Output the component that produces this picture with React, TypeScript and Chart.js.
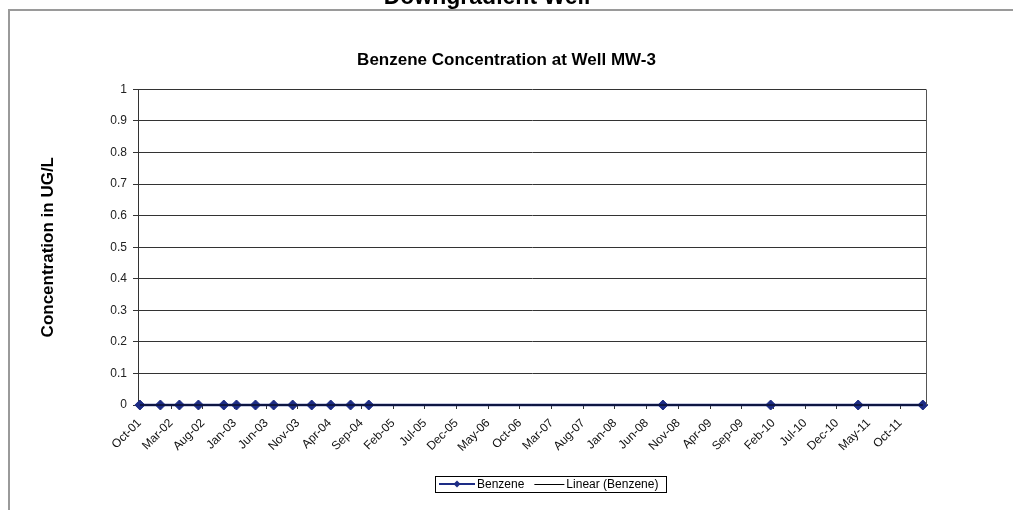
import React, { useEffect, useRef } from 'react';
import { Chart, registerables } from 'chart.js';

Chart.register(...registerables);

// ---- text ----
const PAGE_TITLE = 'Downgradient Well';
const CHART_TITLE = 'Benzene Concentration at Well MW-3';
const Y_TITLE = 'Concentration in UG/L';
const SERIES_NAME = 'Benzene';
const TREND_NAME = 'Linear (Benzene)';

// ---- data ----
const sampleDates = [
  '2001-10-03', '2002-01-10', '2002-04-10', '2002-07-10', '2002-11-10',
  '2003-01-10', '2003-04-10', '2003-07-06', '2003-10-06', '2004-01-06',
  '2004-04-06', '2004-07-10', '2004-10-06', '2008-08-18', '2010-01-18',
  '2011-03-12', '2012-01-18',
];
const benzene = [0, 0, 0, 0, 0, 0, 0, 0, 0, 0, 0, 0, 0, 0, 0, 0, 0];

// x tick labels, one every 5 months starting Oct-01
const xTickLabels = [
  'Oct-01', 'Mar-02', 'Aug-02', 'Jan-03', 'Jun-03', 'Nov-03', 'Apr-04', 'Sep-04',
  'Feb-05', 'Jul-05', 'Dec-05', 'May-06', 'Oct-06', 'Mar-07', 'Aug-07', 'Jan-08',
  'Jun-08', 'Nov-08', 'Apr-09', 'Sep-09', 'Feb-10', 'Jul-10', 'Dec-10', 'May-11', 'Oct-11',
];
const X_TICK_STEP = 5; // months
const yTickValues = [0, 0.1, 0.2, 0.3, 0.4, 0.5, 0.6, 0.7, 0.8, 0.9, 1];

// ---- helpers ----
const ORIGIN_YEAR = 2001;
const ORIGIN_MONTH = 10;
function monthsFromOrigin(d: string): number {
  const [y, m, day] = d.split('-').map(Number);
  return (y - ORIGIN_YEAR) * 12 + (m - ORIGIN_MONTH) + (day - 1) / 30;
}

const FONT = "Arial, 'Liberation Sans', sans-serif";
const NAVY = '#1d2c85';

export default function App() {
  const ref = useRef<HTMLCanvasElement | null>(null);

  useEffect(() => {
    document.body.style.margin = '0';
    const xs = sampleDates.map(monthsFromOrigin);
    const points = xs.map((x, i) => ({ x, y: benzene[i] }));

    // least-squares linear trend
    const n = xs.length;
    const mx = xs.reduce((a, b) => a + b, 0) / n;
    const my = benzene.reduce((a, b) => a + b, 0) / n;
    let sxy = 0;
    let sxx = 0;
    xs.forEach((x, i) => {
      sxy += (x - mx) * (benzene[i] - my);
      sxx += (x - mx) * (x - mx);
    });
    const slope = sxx ? sxy / sxx : 0;
    const icpt = my - slope * mx;
    const xFirst = xs[0];
    const xLast = xs[xs.length - 1];
    const trend = [
      { x: xFirst, y: icpt + slope * xFirst },
      { x: xLast, y: icpt + slope * xLast },
    ];

    const decor = {
      id: 'decor',
      beforeDraw(chart: any) {
        const { ctx, width, height } = chart;
        ctx.save();
        ctx.fillStyle = '#fff';
        ctx.fillRect(0, 0, width, height);
        ctx.restore();
      },
      afterDraw(chart: any) {
        const { ctx, chartArea: a } = chart;
        ctx.save();
        // outer chart frame (left + top visible)
        ctx.strokeStyle = '#9a9a9a';
        ctx.lineWidth = 2;
        ctx.beginPath();
        ctx.moveTo(9, 520);
        ctx.lineTo(9, 10);
        ctx.lineTo(1020, 10);
        ctx.stroke();
        // plot area right border
        ctx.strokeStyle = '#555';
        ctx.lineWidth = 1;
        ctx.beginPath();
        const rx = Math.round(a.right) + 0.5;
        ctx.moveTo(rx, a.top);
        ctx.lineTo(rx, a.bottom);
        ctx.stroke();
        // page heading (cut off at top)
        ctx.fillStyle = '#000';
        ctx.font = `bold 23px ${FONT}`;
        ctx.textAlign = 'center';
        ctx.textBaseline = 'alphabetic';
        ctx.fillText(PAGE_TITLE, 487, 4);

        // legend
        ctx.font = `12px ${FONT}`;
        ctx.textBaseline = 'middle';
        ctx.textAlign = 'left';
        const wB = ctx.measureText(SERIES_NAME).width;
        const wL = ctx.measureText(TREND_NAME).width;
        const padS = 4;
        const s1 = 36;
        const s2 = 30;
        const g = 2;
        const itemGap = 10;
        const total = padS + s1 + g + wB + itemGap + s2 + g + wL + padS + 4;
        const cx = 551;
        const top = 476;
        const h = 16;
        const left = Math.round(cx - total / 2);
        const cy = top + h / 2;
        ctx.strokeStyle = '#000';
        ctx.lineWidth = 1;
        ctx.strokeRect(left + 0.5, top + 0.5, Math.round(total), h);
        let x = left + padS;
        ctx.strokeStyle = NAVY;
        ctx.lineWidth = 2;
        ctx.beginPath();
        ctx.moveTo(x, cy);
        ctx.lineTo(x + s1, cy);
        ctx.stroke();
        ctx.fillStyle = NAVY;
        const dx = x + s1 / 2;
        ctx.beginPath();
        ctx.moveTo(dx - 3.5, cy);
        ctx.lineTo(dx, cy - 3.5);
        ctx.lineTo(dx + 3.5, cy);
        ctx.lineTo(dx, cy + 3.5);
        ctx.closePath();
        ctx.fill();
        x += s1 + g;
        ctx.fillStyle = '#000';
        ctx.fillText(SERIES_NAME, x, cy + 1);
        x += wB + itemGap;
        ctx.strokeStyle = '#000';
        ctx.lineWidth = 1;
        ctx.beginPath();
        ctx.moveTo(x, Math.round(cy) + 0.5);
        ctx.lineTo(x + s2, Math.round(cy) + 0.5);
        ctx.stroke();
        x += s2 + g;
        ctx.fillText(TREND_NAME, x, cy + 1);
        ctx.restore();
      },
    };

    const chart = new Chart(ref.current as HTMLCanvasElement, {
      type: 'line',
      data: {
        datasets: [
          {
            label: TREND_NAME,
            data: trend,
            borderColor: '#000',
            borderWidth: 1,
            pointRadius: 0,
            clip: false as any,
            order: 0,
          },
          {
            label: SERIES_NAME,
            data: points,
            borderColor: NAVY,
            backgroundColor: NAVY,
            borderWidth: 2.5,
            pointStyle: 'rectRot',
            pointRadius: 5,
            pointBorderWidth: 1,
            pointBackgroundColor: NAVY,
            pointBorderColor: NAVY,
            clip: false as any,
            order: 1,
          },
        ],
      },
      plugins: [decor],
      options: {
        animation: false,
        responsive: false,
        layout: { padding: 0 },
        plugins: {
          legend: { display: false },
          tooltip: { enabled: false },
          title: {
            display: true,
            text: CHART_TITLE,
            color: '#000',
            font: { family: FONT, size: 17, weight: 'bold' },
            padding: { top: 50, bottom: 19 },
          },
        },
        scales: {
          x: {
            type: 'linear',
            min: xFirst - 0.3,
            max: xLast + 0.5,
            afterFit: (s: any) => {
              s.height = 105;
            },
            ticks: {
              stepSize: X_TICK_STEP,
              includeBounds: false,
              autoSkip: false,
              minRotation: 45,
              maxRotation: 45,
              padding: 7,
              color: '#111',
              font: { family: FONT, size: 12 },
              callback: (v: any) => {
                const idx = Math.round(Number(v) / X_TICK_STEP);
                return Math.abs(Number(v) - idx * X_TICK_STEP) < 1e-6 ? xTickLabels[idx] ?? '' : '';
              },
            },
            grid: { drawOnChartArea: false, drawTicks: true, tickLength: 4, color: '#333' },
            border: { color: '#333', width: 1 },
          },
          y: {
            position: 'left',
            min: yTickValues[0],
            max: yTickValues[yTickValues.length - 1],
            afterFit: (s: any) => {
              s.width = 138;
            },
            ticks: {
              stepSize: yTickValues[1] - yTickValues[0],
              padding: 6,
              color: '#222',
              font: { family: FONT, size: 12 },
              callback: (v: any) => {
                const n = Number(v);
                if (Math.abs(n) < 1e-9) return '0';
                if (Math.abs(n - 1) < 1e-9) return '1';
                return n.toFixed(1);
              },
            },
            grid: { color: '#333', lineWidth: 1, tickLength: 5 },
            border: { color: '#333', width: 1 },
            title: {
              display: true,
              text: Y_TITLE,
              color: '#000',
              font: { family: FONT, size: 17, weight: 'bold' },
              padding: { top: 38, bottom: 0 },
            },
          },
          y2: {
            position: 'right',
            display: true,
            afterFit: (s: any) => {
              s.width = 87;
            },
            ticks: { display: false },
            grid: { display: false, drawTicks: false },
            border: { display: false },
          },
        },
      } as any,
    });
    return () => chart.destroy();
  }, []);

  return (
    <canvas ref={ref} width={1013} height={510} style={{ display: 'block' }} />
  );
}
